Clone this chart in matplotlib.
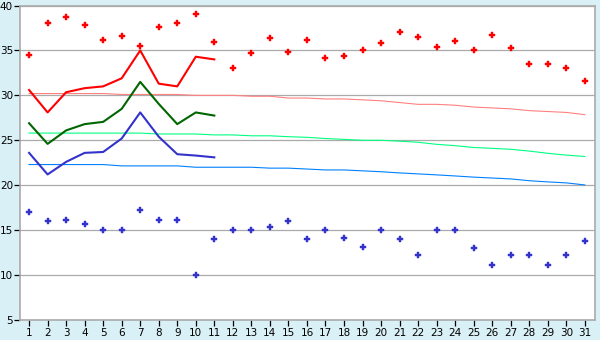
import matplotlib
matplotlib.use("Agg")
import matplotlib.pyplot as plt

days = list(range(1, 32))

# daily extremes (markers)
max_pts = [34.5, 38.1, 38.7, 37.8, 36.2, 36.6, 35.5, 37.6, 38.0, 39.1, 35.9,
           33.0, 34.7, 36.4, 34.8, 36.2, 34.2, 34.35, 35.0, 35.8, 37.0, 36.5,
           35.35, 36.0, 35.0, 36.7, 35.25, 33.5, 33.5, 33.0, 31.6]
min_pts = [17.0, 16.0, 16.1, 15.7, 15.0, 15.0, 17.2, 16.1, 16.1, 10.0, 14.0,
           15.0, 15.0, 15.3, 16.0, 14.0, 15.0, 14.1, 13.1, 15.0, 14.0, 12.2,
           15.0, 15.0, 13.0, 11.1, 12.2, 12.2, 11.1, 12.2, 13.8]

# current month lines (days 1-11)
cur_days = days[:11]
cur_max = [30.6, 28.1, 30.35, 30.8, 31.0, 31.9, 35.0, 31.3, 31.0, 34.3, 34.0]
cur_mean = [26.9, 24.6, 26.1, 26.8, 27.05, 28.5, 31.5, 29.05, 26.8, 28.1, 27.75]
cur_min = [23.6, 21.2, 22.6, 23.6, 23.7, 25.2, 28.1, 25.4, 23.45, 23.3, 23.1]

# normals
norm_max = [30.2, 30.2, 30.2, 30.2, 30.2, 30.1, 30.1, 30.1, 30.1, 30.0, 30.0,
            30.0, 29.9, 29.9, 29.7, 29.7, 29.6, 29.6, 29.5, 29.4, 29.2, 29.0,
            29.0, 28.9, 28.7, 28.6, 28.5, 28.3, 28.2, 28.1, 27.85]
norm_mean = [25.8, 25.8, 25.8, 25.8, 25.8, 25.8, 25.8, 25.7, 25.7, 25.7, 25.6,
             25.6, 25.5, 25.5, 25.4, 25.33, 25.2, 25.1, 25.0, 25.0, 24.9, 24.78,
             24.55, 24.4, 24.2, 24.1, 24.0, 23.8, 23.55, 23.35, 23.2]
norm_min = [22.3, 22.3, 22.3, 22.3, 22.3, 22.15, 22.15, 22.15, 22.15, 22.0, 22.0,
            22.0, 22.0, 21.9, 21.9, 21.8, 21.7, 21.7, 21.6, 21.5, 21.37, 21.26,
            21.15, 21.03, 20.9, 20.8, 20.7, 20.5, 20.37, 20.26, 20.03]

bg = "#d9f0f7"
grid_c = "#aaaaaa"

fig = plt.figure(figsize=(6, 3.4), dpi=100, facecolor=bg)
ax = fig.add_axes([20 / 600, 1 - 320 / 340, 575 / 600, 314.5 / 340])
ax.set_facecolor("white")

ax.plot(days, norm_max, color="#ff8080", lw=0.8)
ax.plot(days, norm_mean, color="#00ff80", lw=0.8)
ax.plot(days, norm_min, color="#0080ff", lw=0.8)

ax.plot(cur_days, cur_max, color="#ff0000", lw=1.5)
ax.plot(cur_days, cur_mean, color="#006600", lw=1.5)
ax.plot(cur_days, cur_min, color="#3333cc", lw=1.5)

ax.plot(days, max_pts, ls="none", marker="P", ms=4.0, color="#ff0000", mec="#ff0000", mew=0.3)
ax.plot(days, min_pts, ls="none", marker="P", ms=3.7, color="#3333cc", mec="#3333cc", mew=0.3)

ax.set_xlim(0.51, 31.55)
ax.set_ylim(5, 40)
ax.set_yticks(range(5, 41, 5))
ax.set_xticks(days)
ax.yaxis.grid(True, color=grid_c, lw=0.9)
ax.set_axisbelow(True)
for s in ax.spines.values():
    s.set_color(grid_c)
    s.set_linewidth(1.2)
ax.tick_params(axis="both", colors="#000000", labelsize=7.5, length=4,
               width=0.9, direction="out", pad=2)
ax.tick_params(axis="y", pad=1)

fig.savefig("out.png", dpi=100, facecolor=bg)
